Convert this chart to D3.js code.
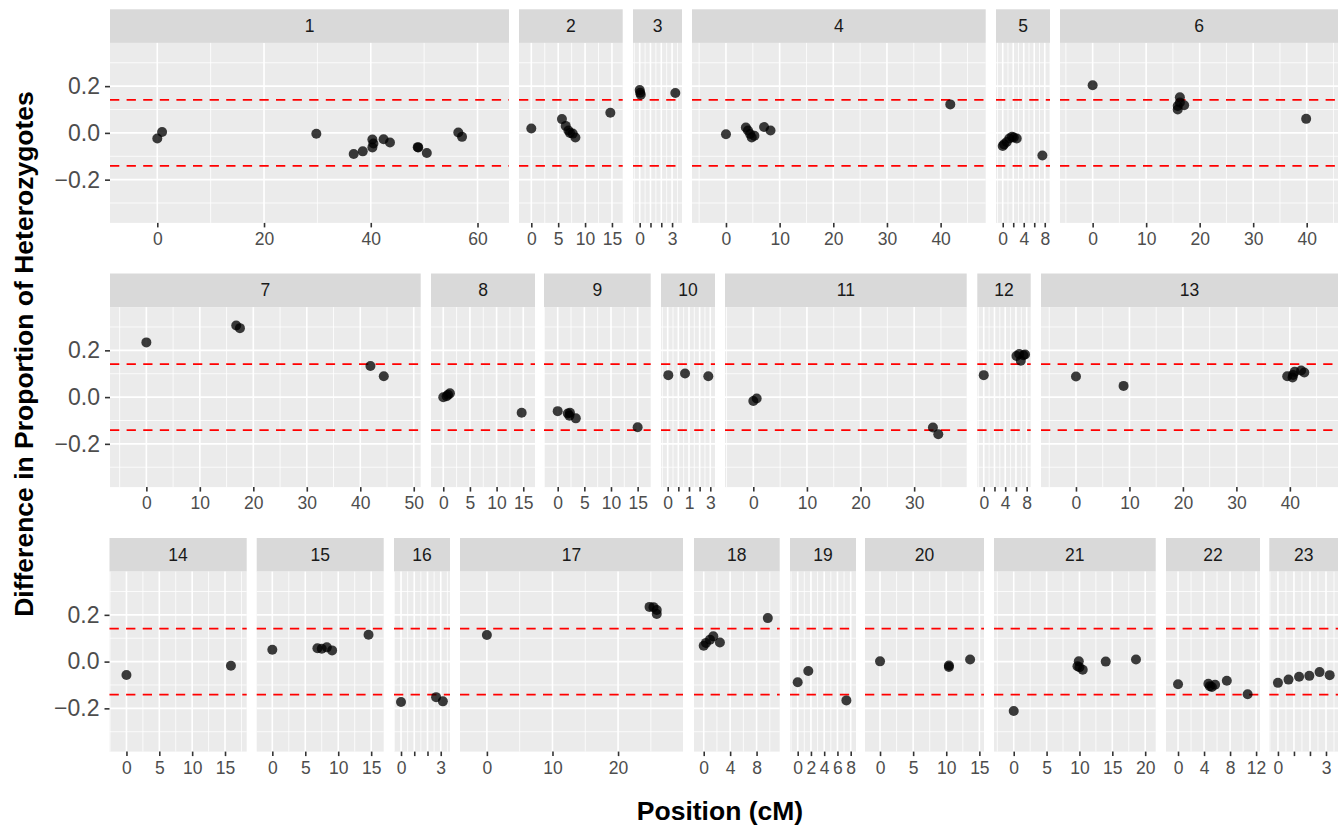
<!DOCTYPE html>
<html>
<head>
<meta charset="utf-8">
<script src="https://cdn.jsdelivr.net/npm/d3@7"></script>
<style>
  body { margin: 0; background: #fff; }
  svg { display: block; font-family: "Liberation Sans", Arial, sans-serif; }
</style>
</head>
<body>
<script>
// chromosome facets
var chromosomes = ["1", "2", "3", "4", "5", "6", "7", "8", "9", "10", "11", "12",
    "13", "14", "15", "16", "17", "18", "19", "20", "21", "22", "23"];

// marker positions (cM), one list per chromosome
var positions = [
    [0, 0.9, 29.8, 36.8, 38.5, 40.3, 40.5, 40.3, 42.4, 43.6, 48.8, 48.9, 50.5, 56.4, 57.1],
    [0, 5.7, 6.4, 6.9, 7.2, 7.7, 8.2, 14.7],
    [0, 0.05, 0.1, 3.3],
    [0, 3.7, 4.1, 4.5, 4.8, 5.3, 7.1, 8.3, 41.8],
    [0, 0.25, 0.76, 1.26, 1.77, 2.1, 2.67, 7.55],
    [0, 15.9, 15.9, 16.3, 16.3, 17.1, 39.9],
    [0, 16.8, 17.5, 41.9, 44.4],
    [0, 0.63, 0.9, 1.25, 14.7],
    [0, 1.9, 2.2, 2.3, 3.4, 15.0],
    [0.04, 1.14, 2.67],
    [0, 0.63, 33.5, 34.5],
    [0, 6.1, 6.6, 6.9, 7.4, 7.7],
    [0, 8.9, 39.5, 40.5, 40.6, 40.9, 42.1, 42.7],
    [0, 15.9],
    [0, 6.84, 7.5, 8.27, 9.07, 14.6],
    [0, 2.65, 3.16],
    [0, 24.8, 25.4, 25.9, 25.9],
    [0, 0.35, 0.95, 1.45, 2.45, 9.7],
    [0, 1.6, 7.35],
    [0, 10.4, 10.4, 13.6],
    [0, 9.7, 9.9, 10.0, 10.5, 14.0, 18.6],
    [0, 4.66, 4.9, 5.2, 5.7, 7.5, 10.7],
    [0, 0.66, 1.32, 1.96, 2.6, 3.23]
];

// difference in proportion of heterozygotes, same order as positions
var hetDiff = [
    [-0.024, 0.004, -0.004, -0.090, -0.079, -0.028, -0.045, -0.062, -0.027, -0.041, -0.061, -0.062, -0.086, 0.002, -0.017],
    [0.019, 0.059, 0.030, 0.010, 0.000, -0.003, -0.020, 0.086],
    [0.183, 0.172, 0.163, 0.171],
    [-0.006, 0.023, 0.010, -0.005, -0.020, -0.012, 0.025, 0.010, 0.122],
    [-0.056, -0.049, -0.039, -0.024, -0.017, -0.020, -0.024, -0.097],
    [0.204, 0.115, 0.100, 0.152, 0.130, 0.118, 0.060],
    [0.234, 0.306, 0.295, 0.133, 0.089],
    [-0.001, 0.004, 0.010, 0.016, -0.067],
    [-0.060, -0.070, -0.080, -0.067, -0.091, -0.129],
    [0.094, 0.101, 0.089],
    [-0.017, -0.006, -0.130, -0.159],
    [0.094, 0.176, 0.184, 0.156, 0.179, 0.182],
    [0.088, 0.048, 0.089, 0.084, 0.095, 0.108, 0.114, 0.105],
    [-0.057, -0.018],
    [0.051, 0.057, 0.055, 0.061, 0.048, 0.115],
    [-0.173, -0.152, -0.170],
    [0.114, 0.234, 0.233, 0.221, 0.204],
    [0.068, 0.080, 0.094, 0.108, 0.082, 0.186],
    [-0.088, -0.040, -0.166],
    [0.001, -0.017, -0.023, 0.009],
    [-0.211, -0.020, 0.001, -0.024, -0.035, 0.000, 0.009],
    [-0.097, -0.095, -0.105, -0.109, -0.099, -0.082, -0.140],
    [-0.091, -0.077, -0.065, -0.061, -0.045, -0.058]
];

// x scale limits per chromosome
var xDomains = [
    [-8.86, 65.9], [-2.29, 17.0], [-0.62, 3.92], [-6.33, 48.4], [-1.28, 9.0], [-6.1, 45.85],
    [-6.8, 51.3], [-2.3, 17.2], [-2.57, 17.45], [-0.44, 3.11], [-5.28, 39.8], [-1.2, 8.75], [-6.54, 49.0],
    [-2.58, 18.3], [-2.37, 16.9], [-0.53, 3.7], [-4.1, 29.9], [-1.47, 11.5], [-1.16, 8.8],
    [-2.27, 15.7], [-3.0, 21.6], [-1.85, 12.6], [-0.54, 3.75]
];

// x breaks and their labels ("" = label dropped for overlap)
var xTicks = [
    [0, 20, 40, 60], [0, 5, 10, 15], [0, 1, 2, 3], [0, 10, 20, 30, 40], [0, 2, 4, 6, 8], [0, 10, 20, 30, 40],
    [0, 10, 20, 30, 40, 50], [0, 5, 10, 15], [0, 5, 10, 15], [0, 0.7, 1.4, 2.1, 2.8], [0, 10, 20, 30], [0, 2, 4, 6, 8], [0, 10, 20, 30, 40],
    [0, 5, 10, 15], [0, 5, 10, 15], [0, 1, 2, 3], [0, 10, 20], [0, 4, 8], [0, 2, 4, 6, 8],
    [0, 5, 10, 15], [0, 5, 10, 15, 20], [0, 4, 8, 12], [0, 1, 2, 3]
];
var xTickLabels = [
    ["0", "20", "40", "60"], ["0", "5", "10", "15"], ["0", "", "", "3"], ["0", "10", "20", "30", "40"], ["0", "", "4", "", "8"], ["0", "10", "20", "30", "40"],
    ["0", "10", "20", "30", "40", "50"], ["0", "5", "10", "15"], ["0", "5", "10", "15"], ["0", "", "1", "", "3"], ["0", "10", "20", "30"], ["0", "", "4", "", "8"], ["0", "10", "20", "30", "40"],
    ["0", "5", "10", "15"], ["0", "5", "10", "15"], ["0", "", "", "3"], ["0", "10", "20"], ["0", "4", "8"], ["0", "2", "4", "6", "8"],
    ["0", "5", "10", "15"], ["0", "5", "10", "15", "20"], ["0", "4", "8", "12"], ["0", "", "", "3"]
];

var yDomain = [-0.385, 0.385];
var yTicks = [-0.2, 0, 0.2];
var yTickLabels = ["\u22120.2", "0.0", "0.2"];
var yMinor = [-0.3, -0.1, 0.1, 0.3];
var threshold = 0.141;

// ---- layout (pixels) ----
var width = 1343, height = 826;
var rows = [[0, 1, 2, 3, 4, 5], [6, 7, 8, 9, 10, 11, 12], [13, 14, 15, 16, 17, 18, 19, 20, 21, 22]];
var rowTops = [9.3, 273.5, 538];
var stripH = 33.6, panelH = 180;
var panelX = [
    [110, 509], [519, 622.7], [633, 682], [692, 985.7], [996, 1050], [1060, 1338],
    [110, 420.7], [431, 535], [544, 650.7], [661, 715], [725, 966.7], [977.3, 1030.7], [1041, 1338],
    [109.5, 246.7], [256.7, 383.7], [394, 450], [460, 683], [694, 779.7], [790, 856], [865, 984],
    [994, 1155.7], [1166, 1260], [1269.3, 1338]
];

var svg = d3.select("body").append("svg")
    .attr("width", width)
    .attr("height", height);

rows.forEach(function (row, r) {
    var stripTop = rowTops[r];
    var pTop = stripTop + stripH;
    var pBottom = pTop + panelH;
    var y = d3.scaleLinear().domain(yDomain).range([pBottom, pTop]);

    row.forEach(function (i, k) {
        var x = d3.scaleLinear().domain(xDomains[i]).range(panelX[i]);
        var x0 = panelX[i][0], x1 = panelX[i][1];
        var g = svg.append("g");

        // strip
        g.append("rect")
            .attr("x", x0).attr("y", stripTop)
            .attr("width", x1 - x0).attr("height", stripH)
            .attr("fill", "#D9D9D9");
        g.append("text")
            .attr("x", (x0 + x1) / 2).attr("y", stripTop + stripH / 2)
            .attr("dy", "0.35em")
            .attr("text-anchor", "middle")
            .attr("font-size", 17.5)
            .attr("fill", "#1A1A1A")
            .text(chromosomes[i]);

        // panel background
        g.append("rect")
            .attr("x", x0).attr("y", pTop)
            .attr("width", x1 - x0).attr("height", panelH)
            .attr("fill", "#EBEBEB");

        // minor grid
        var ticks = xTicks[i];
        var step = ticks[1] - ticks[0];
        var dom = xDomains[i];
        var xMinor = d3.range(ticks[0] - step / 2, ticks[ticks.length - 1] + step, step)
            .filter(function (v) { return v >= dom[0] && v <= dom[1]; });

        g.selectAll(".xminor").data(xMinor).enter().append("line")
            .attr("x1", x).attr("x2", x)
            .attr("y1", pTop).attr("y2", pBottom)
            .attr("stroke", "#fff").attr("stroke-width", 0.8);
        g.selectAll(".yminor").data(yMinor).enter().append("line")
            .attr("x1", x0).attr("x2", x1)
            .attr("y1", y).attr("y2", y)
            .attr("stroke", "#fff").attr("stroke-width", 0.8);

        // major grid
        g.selectAll(".xmajor").data(ticks).enter().append("line")
            .attr("x1", x).attr("x2", x)
            .attr("y1", pTop).attr("y2", pBottom)
            .attr("stroke", "#fff").attr("stroke-width", 1.6);
        g.selectAll(".ymajor").data(yTicks).enter().append("line")
            .attr("x1", x0).attr("x2", x1)
            .attr("y1", y).attr("y2", y)
            .attr("stroke", "#fff").attr("stroke-width", 1.6);

        // threshold lines
        g.selectAll(".thr").data([threshold, -threshold]).enter().append("line")
            .attr("x1", x0).attr("x2", x1)
            .attr("y1", y).attr("y2", y)
            .attr("stroke", "#FF0000")
            .attr("stroke-width", 1.8)
            .attr("stroke-dasharray", "9.3,7.3");

        // points
        var pts = positions[i].map(function (p, j) { return {pos: p, diff: hetDiff[i][j]}; });
        g.selectAll(".pt").data(pts).enter().append("circle")
            .attr("cx", function (d) { return x(d.pos); })
            .attr("cy", function (d) { return y(d.diff); })
            .attr("r", 5)
            .attr("fill", "#000")
            .attr("fill-opacity", 0.76);

        // x axis
        var labels = xTickLabels[i];
        var xAxis = svg.append("g")
            .attr("transform", "translate(0," + pBottom + ")")
            .call(d3.axisBottom(x)
                .tickValues(ticks)
                .tickSize(4.5)
                .tickPadding(5)
                .tickFormat(function (d, j) { return labels[j]; }));
        xAxis.select(".domain").remove();
        xAxis.selectAll(".tick line").attr("stroke", "#333").attr("stroke-width", 1.6);
        xAxis.selectAll(".tick text")
            .attr("fill", "#4D4D4D")
            .attr("font-size", 17.5);

        // y axis on the first panel of each row
        if (k === 0) {
            var yAxis = svg.append("g")
                .attr("transform", "translate(" + x0 + ",0)")
                .call(d3.axisLeft(y)
                    .tickValues(yTicks)
                    .tickSize(5)
                    .tickPadding(5)
                    .tickFormat(function (d, j) { return yTickLabels[j]; }));
            yAxis.select(".domain").remove();
            yAxis.selectAll(".tick line").attr("stroke", "#333").attr("stroke-width", 1.6);
            yAxis.selectAll(".tick text")
                .attr("fill", "#4D4D4D")
                .attr("font-size", 23);
        }
    });
});

// axis titles
svg.append("text")
    .attr("x", 720).attr("y", 820)
    .attr("text-anchor", "middle")
    .attr("font-size", 26.5)
    .attr("font-weight", "bold")
    .text("Position (cM)");

svg.append("text")
    .attr("transform", "translate(33,354) rotate(-90)")
    .attr("text-anchor", "middle")
    .attr("font-size", 26.5)
    .attr("font-weight", "bold")
    .text("Difference in Proportion of Heterozygotes");
</script>
</body>
</html>
